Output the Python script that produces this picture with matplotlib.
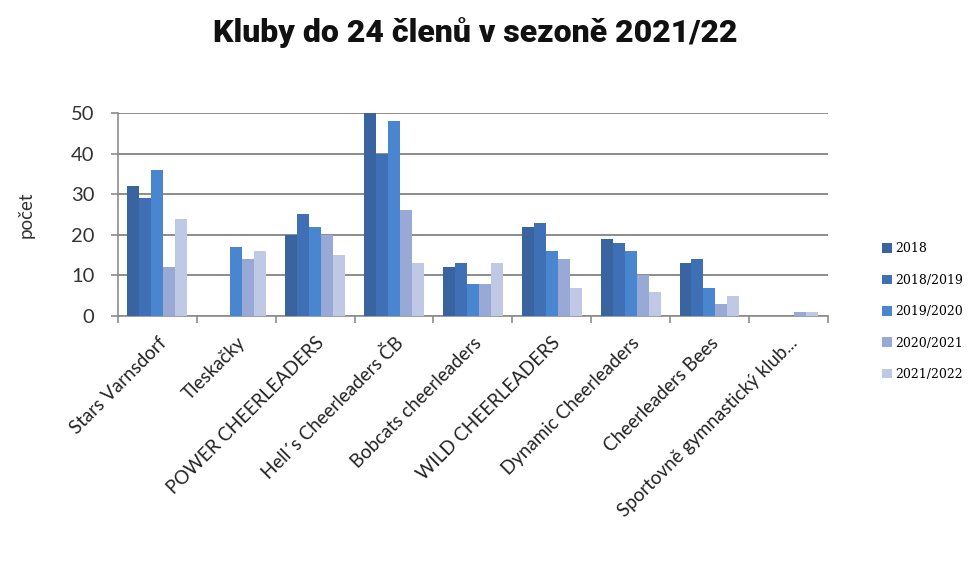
import matplotlib.pyplot as plt
import numpy as np

kluby = ["Stars Varnsdorf", "Tleskačky", "POWER CHEERLEADERS",
         "Hell´s Cheerleaders ČB", "Bobcats cheerleaders", "WILD CHEERLEADERS",
         "Dynamic Cheerleaders", "Cheerleaders Bees", "Sportovně gymnastický klub..."]
sezony = ["2018", "2018/2019", "2019/2020", "2020/2021", "2021/2022"]
s2018 = [32, 0, 20, 50, 12, 22, 19, 13, 0]
s2018_19 = [29, 0, 25, 40, 13, 23, 18, 14, 0]
s2019_20 = [36, 17, 22, 48, 8, 16, 16, 7, 0]
s2020_21 = [12, 14, 20, 26, 8, 14, 10, 3, 1]
s2021_22 = [24, 16, 15, 13, 13, 7, 6, 5, 1]
barvy = ["#3a64a0", "#3f70b6", "#4a86d0", "#98a9d6", "#bfc9e6"]

hodnoty = [s2018, s2018_19, s2019_20, s2020_21, s2021_22]

plt.rcParams['font.family'] = ['Lato', 'DejaVu Sans']

fig = plt.figure(figsize=(9.75, 5.87), dpi=100)
ax = fig.add_axes([0.121, 0.4617, 0.728, 0.3458])

x = np.arange(len(kluby))
w = 0.152
for i, (h, c, s) in enumerate(zip(hodnoty, barvy, sezony)):
    ax.bar(x + (i - 2) * w, h, width=w, color=c, label=s, zorder=3)

ax.set_xlim(-0.5, len(kluby) - 0.5)
ax.set_ylim(0, 50)
ax.set_yticks(range(0, 51, 10))
ax.yaxis.grid(True, color="#8c8c8c", linewidth=1.4, zorder=0)
for side in ["top", "right"]:
    ax.spines[side].set_visible(False)
for side in ["left", "bottom"]:
    ax.spines[side].set_color("#8c8c8c")
    ax.spines[side].set_linewidth(1.2)

# ticks between groups, labels under group centres
ax.set_xticks(np.arange(-0.5, len(kluby)), minor=False)
ax.set_xticklabels([])
ax.set_xticks(x, minor=True)
ax.set_xticklabels(kluby, minor=True, rotation=45, ha="right",
                   rotation_mode="anchor", fontsize=13.5, color="#222222")
ax.tick_params(axis="x", which="major", length=5, color="#8c8c8c", width=1.2)
ax.tick_params(axis="x", which="minor", length=0, pad=13)
ax.tick_params(axis="y", length=5, color="#8c8c8c", width=1.2, pad=12,
               labelsize=14.5, labelcolor="#333333")
ax.set_ylabel("počet", fontsize=13.5, color="#333333", labelpad=26)

fig.text(0.487, 0.945, "Kluby do 24 členů v sezoně 2021/22", ha="center", va="center",
         fontsize=23, fontweight="heavy", family=["Roboto", "DejaVu Sans"], color="#111111")

ax.legend(loc="center left", bbox_to_anchor=(0.893, 0.469), bbox_transform=fig.transFigure,
          frameon=False, handlelength=0.8, handleheight=0.8, handletextpad=0.3,
          labelspacing=1.47, prop={"family": "DejaVu Serif", "size": 9})

fig.savefig("out.png", dpi=100)
